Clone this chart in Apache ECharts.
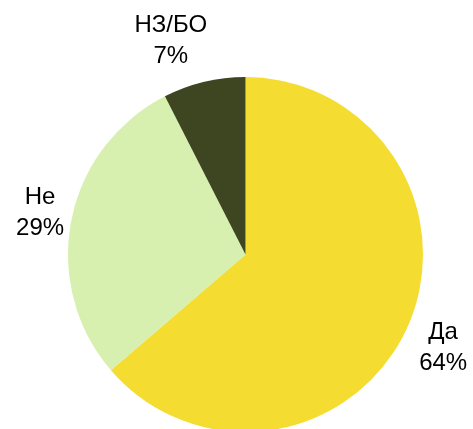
<!DOCTYPE html>
<html>
<head>
<meta charset="utf-8">
<script src="https://cdn.jsdelivr.net/npm/echarts@6/dist/echarts.min.js"></script>
<style>
html,body{margin:0;padding:0;background:#fff;}
#chart{width:473px;height:429px;}
</style>
</head>
<body>
<div id="chart"></div>
<script>
const categories = ['Да', 'Не', 'НЗ/БО'];
const values = [63.7, 28.8, 7.5];
const percentLabels = ['64%', '29%', '7%'];
const colors = ['#F5DC31', '#D8F0AF', '#3D4521'];
const labelShift = [[-5, 3], [13, 0], [-19, -2]];

const chart = echarts.init(document.getElementById('chart'), null, {renderer: 'canvas'});
chart.setOption({
  animation: false,
  backgroundColor: '#ffffff',
  series: [{
    type: 'pie',
    center: [245.5, 254.5],
    radius: 177.5,
    startAngle: 90,
    clockwise: true,
    avoidLabelOverlap: false,
    data: categories.map((c, i) => ({name: c, value: values[i], itemStyle: {color: colors[i]}})),
    itemStyle: {borderWidth: 0},
    label: {
      show: true,
      position: 'outside',
      formatter: p => p.name + '\n' + percentLabels[p.dataIndex],
      fontFamily: 'Liberation Sans, Arial, sans-serif',
      fontSize: 24,
      lineHeight: 31,
      color: '#000'
    },
    labelLine: {show: false, length: 40, length2: 0},
    labelLayout: p => ({
      align: 'center',
      verticalAlign: 'middle',
      dx: labelShift[p.dataIndex][0],
      dy: labelShift[p.dataIndex][1]
    })
  }]
});
</script>
</body>
</html>
